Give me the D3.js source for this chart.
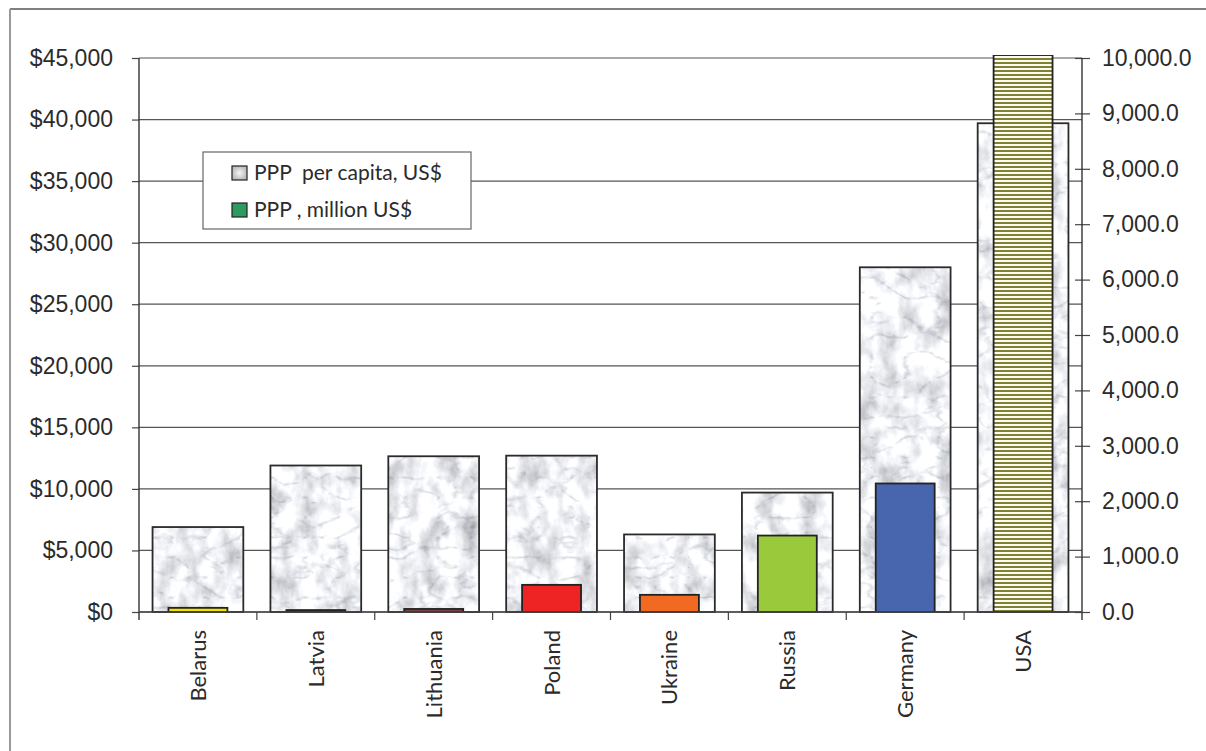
<!DOCTYPE html>
<html>
<head>
<meta charset="utf-8">
<script src="https://cdn.jsdelivr.net/npm/d3@7"></script>
<style>
  html, body { margin: 0; padding: 0; background: #fff; }
  svg { display: block; font-family: Lato, "Open Sans", sans-serif; }
  .tick text { fill: #2b2b2b; }
</style>
</head>
<body>
<div id="chart"></div>
<script>
// Values
const categories = ["Belarus", "Latvia", "Lithuania", "Poland", "Ukraine", "Russia", "Germany", "USA"];
const perCapita = [6900, 11900, 12650, 12700, 6300, 9700, 28000, 39700];   // PPP per capita, US$ (left axis)
const pppMillion = [75, 35, 55, 490, 310, 1380, 2320, 12400];             // PPP, million US$ (right axis)
const barColors = ["#f0e400", "#2a2a2a", "#7a4444", "#ee2424", "#f26922", "#9aca3c", "#4866ae", "url(#stripes)"];
const leftTicks = d3.range(0, 45001, 5000);
const rightTicks = d3.range(0, 10001, 1000);
const legendLabels = ["PPP  per capita, US$", "PPP , million US$"];

const W = 1206, H = 751;
const m = { top: 58, right: 124, bottom: 139, left: 139 };
const iw = W - m.left - m.right, ih = H - m.top - m.bottom;

const svg = d3.select("#chart").append("svg")
    .attr("width", W)
    .attr("height", H);

const defs = svg.append("defs");

// Marble-like texture for the per-capita bars: soft mottling plus thin veins
const marble = defs.append("filter")
    .attr("id", "marbleFx")
    .attr("x", 0).attr("y", 0).attr("width", 1).attr("height", 1);
marble.append("feTurbulence")
    .attr("type", "fractalNoise")
    .attr("baseFrequency", "0.05 0.035")
    .attr("numOctaves", 4)
    .attr("seed", 3)
    .attr("result", "mottle");
marble.append("feColorMatrix")
    .attr("in", "mottle")
    .attr("type", "matrix")
    .attr("values", "1.1 0 0 0 0.34  1.1 0 0 0 0.35  1.1 0 0 0 0.38  0 0 0 0 1")
    .attr("result", "base");
marble.append("feTurbulence")
    .attr("type", "turbulence")
    .attr("baseFrequency", "0.03 0.05")
    .attr("numOctaves", 3)
    .attr("seed", 11)
    .attr("result", "veinNoise");
marble.append("feColorMatrix")
    .attr("in", "veinNoise")
    .attr("type", "matrix")
    .attr("values", "1.5 0 0 0 0.68  1.5 0 0 0 0.69  1.5 0 0 0 0.71  0 0 0 0 1")
    .attr("result", "veins");
marble.append("feBlend")
    .attr("in", "base").attr("in2", "veins")
    .attr("mode", "multiply");

// One tile as large as the page, so no seams show inside the bars
const pat = defs.append("pattern")
    .attr("id", "marble")
    .attr("patternUnits", "userSpaceOnUse")
    .attr("width", W).attr("height", H);
pat.append("rect")
    .attr("width", W).attr("height", H)
    .attr("filter", "url(#marbleFx)");

// Horizontal olive stripes for the USA bar
const stripes = defs.append("pattern")
    .attr("id", "stripes")
    .attr("patternUnits", "userSpaceOnUse")
    .attr("width", 10).attr("height", 4);
stripes.append("rect").attr("width", 10).attr("height", 4).attr("fill", "#fbfbf4");
stripes.append("rect").attr("width", 10).attr("height", 2)
    .attr("fill", "#818132").attr("shape-rendering", "crispEdges");

const swatchGrad = defs.append("radialGradient").attr("id", "swatchGrad");
swatchGrad.append("stop").attr("offset", "0%").attr("stop-color", "#f4f4f6");
swatchGrad.append("stop").attr("offset", "100%").attr("stop-color", "#bcbcc0");

defs.append("clipPath").attr("id", "plotClip")
  .append("rect")
    .attr("x", -5).attr("y", -3)
    .attr("width", iw + 10).attr("height", ih + 3);

// Outer frame
svg.append("line")
    .attr("x1", 10).attr("x2", W).attr("y1", 9).attr("y2", 9)
    .attr("stroke", "#555").attr("stroke-width", 1.5);
svg.append("line")
    .attr("x1", 10).attr("x2", 10).attr("y1", 9).attr("y2", H)
    .attr("stroke", "#9a9a9a").attr("stroke-width", 2);

const g = svg.append("g").attr("transform", `translate(${m.left},${m.top})`);

const x = d3.scaleBand().domain(categories).range([0, iw]);
const yL = d3.scaleLinear().domain([0, 45000]).range([ih, 0]);
const yR = d3.scaleLinear().domain([0, 10000]).range([ih, 0]);

// Gridlines
g.append("g")
  .selectAll("line")
  .data(leftTicks)
  .join("line")
    .attr("x1", 0).attr("x2", iw)
    .attr("y1", d => yL(d)).attr("y2", d => yL(d))
    .attr("stroke", "#555").attr("stroke-width", 1.2);

// Per capita bars (wide, textured)
const wideW = x.bandwidth() * 0.77;
g.append("g")
  .selectAll("rect")
  .data(categories)
  .join("rect")
    .attr("x", d => x(d) + (x.bandwidth() - wideW) / 2)
    .attr("width", wideW)
    .attr("y", (d, i) => yL(perCapita[i]))
    .attr("height", (d, i) => ih - yL(perCapita[i]))
    .attr("fill", "url(#marble)")
    .attr("stroke", "#2a2a2a").attr("stroke-width", 1.8);

// PPP million bars (narrow, coloured) on right axis
const narrowW = x.bandwidth() * 0.5;
g.append("g")
    .attr("clip-path", "url(#plotClip)")
  .selectAll("rect")
  .data(categories)
  .join("rect")
    .attr("x", d => x(d) + (x.bandwidth() - narrowW) / 2)
    .attr("width", narrowW)
    .attr("y", (d, i) => Math.max(yR(pppMillion[i]), -3))
    .attr("height", (d, i) => ih - Math.max(yR(pppMillion[i]), -3))
    .attr("fill", (d, i) => barColors[i])
    .attr("stroke", "#222").attr("stroke-width", 1.8);

// Left axis
const axL = g.append("g")
    .call(d3.axisLeft(yL).tickValues(leftTicks)
        .tickFormat(d => "$" + d3.format(",")(d))
        .tickSize(7).tickPadding(19));
axL.select(".domain").remove();
axL.selectAll(".tick line").attr("stroke", "#444").attr("stroke-width", 1.2);
axL.selectAll(".tick text").style("font-size", "23px");
g.append("line")
    .attr("x1", 0).attr("x2", 0).attr("y1", 0).attr("y2", ih + 8)
    .attr("stroke", "#333").attr("stroke-width", 1.4);

// Right axis
const axR = g.append("g")
    .attr("transform", `translate(${iw},0)`)
    .call(d3.axisRight(yR).tickValues(rightTicks)
        .tickFormat(d3.format(",.1f"))
        .tickSize(8).tickPadding(12));
axR.select(".domain").remove();
axR.selectAll(".tick line").attr("x1", -7).attr("stroke", "#444").attr("stroke-width", 1.2);
axR.selectAll(".tick text").style("font-size", "23px");
g.append("line")
    .attr("x1", iw).attr("x2", iw).attr("y1", 0).attr("y2", ih + 8)
    .attr("stroke", "#333").attr("stroke-width", 1.4);

// Bottom axis: boundary ticks and rotated category labels
g.append("line")
    .attr("x1", 0).attr("x2", iw).attr("y1", ih).attr("y2", ih)
    .attr("stroke", "#444").attr("stroke-width", 1.4);
g.append("g")
  .selectAll("line")
  .data(categories.slice(1))
  .join("line")
    .attr("x1", d => x(d)).attr("x2", d => x(d))
    .attr("y1", ih).attr("y2", ih + 8)
    .attr("stroke", "#444").attr("stroke-width", 1.2);
g.append("g")
  .selectAll("text")
  .data(categories)
  .join("text")
    .attr("transform", d => `translate(${x(d) + x.bandwidth() / 2 + 8},${ih + 18}) rotate(-90)`)
    .attr("text-anchor", "end")
    .style("font-size", "22px")
    .attr("fill", "#2b2b2b")
    .text(d => d);

// Legend
const leg = svg.append("g").attr("transform", "translate(203,152)");
leg.append("rect")
    .attr("width", 268).attr("height", 77)
    .attr("fill", "#fff").attr("stroke", "#666").attr("stroke-width", 1.2);
const swatchFills = ["url(#swatchGrad)", "#2e9a60"];
const items = leg.selectAll("g.item")
  .data(legendLabels)
  .join("g")
    .attr("class", "item")
    .attr("transform", (d, i) => `translate(29,${14 + i * 37})`);
items.append("rect")
    .attr("width", 15).attr("height", 14)
    .attr("fill", (d, i) => swatchFills[i])
    .attr("stroke", "#222").attr("stroke-width", 1.2);
items.append("text")
    .attr("x", 22).attr("y", 14)
    .style("font-size", "21px")
    .style("white-space", "pre")
    .attr("fill", "#2b2b2b")
    .text(d => d);
</script>
</body>
</html>
